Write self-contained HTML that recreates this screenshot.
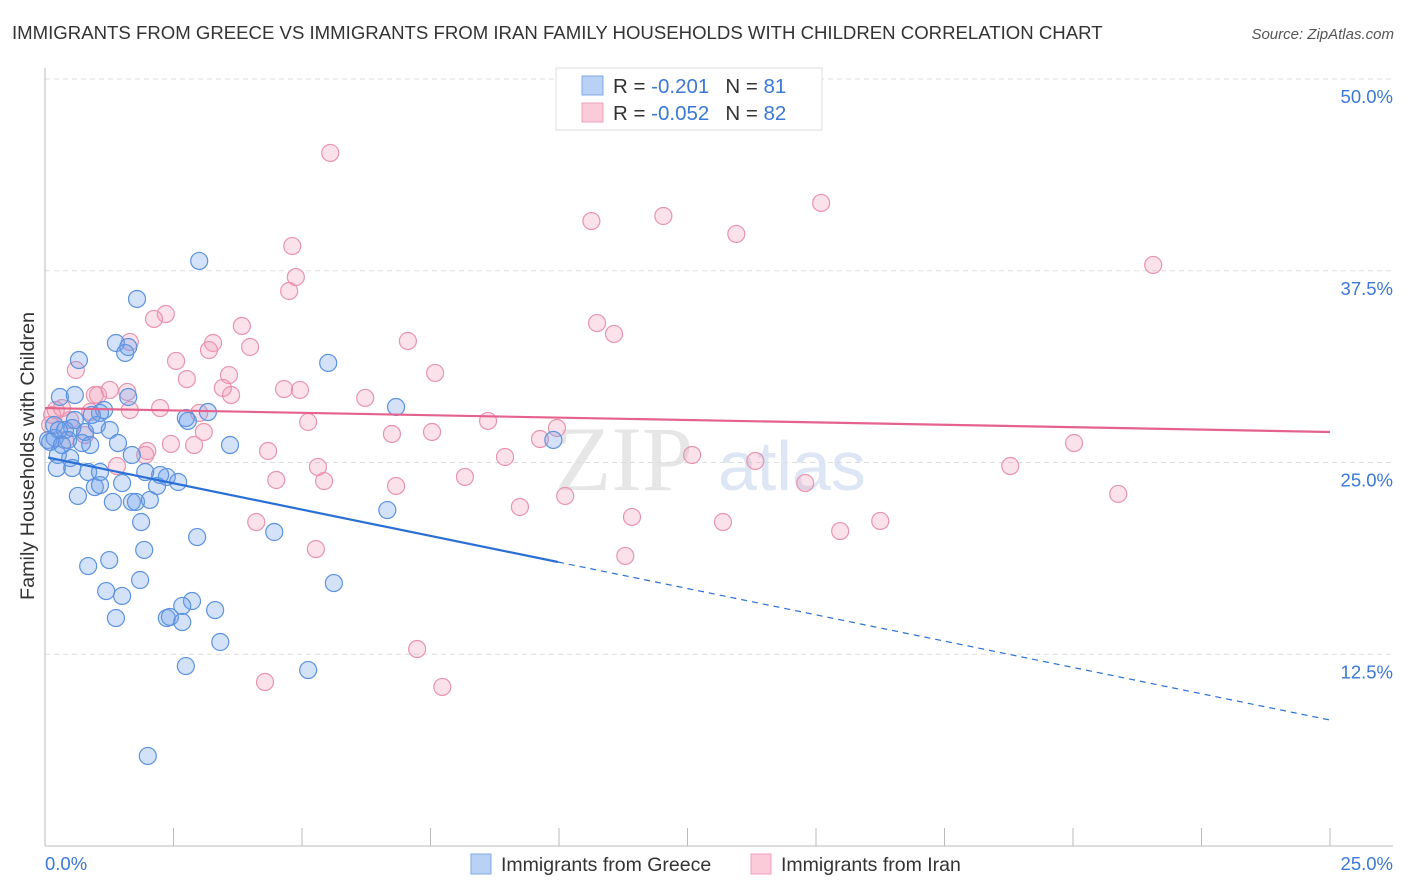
<!DOCTYPE html>
<html><head><meta charset="utf-8"><style>
body{margin:0;background:#fff;font-family:"Liberation Sans",sans-serif;}
#wrap{position:relative;width:1406px;height:892px;overflow:hidden;}
</style></head><body>
<div id="wrap">
<svg id="svg" width="1406" height="892" xmlns="http://www.w3.org/2000/svg">
<text x="12" y="39" font-size="18.6" fill="#333">IMMIGRANTS FROM GREECE VS IMMIGRANTS FROM IRAN FAMILY HOUSEHOLDS WITH CHILDREN CORRELATION CHART</text>
<text x="1394" y="39" font-size="15" fill="#555" font-style="italic" text-anchor="end">Source: ZipAtlas.com</text>
<text x="34" y="456" font-size="19.8" fill="#333" text-anchor="middle" transform="rotate(-90 34 456)">Family Households with Children</text>
<g>
<text x="555" y="490" font-size="92" fill="#e6e6e6" font-family="Liberation Serif,serif">ZIP</text>
<text x="718" y="490" font-size="70" fill="#dce6f4">atlas</text>
</g>
<g id="grid"></g>
<g id="axes"></g>
<g id="pts"></g>
<g id="trends"></g>
<g>
<rect x="556" y="68" width="266" height="62" fill="#fff" stroke="#ddd"/>
<rect x="582" y="76" width="21" height="19" fill="#b9d1f4" stroke="#7fa8e6"/>
<rect x="582" y="103" width="21" height="19" fill="#fbcbd9" stroke="#eea0b8"/>
<text x="613" y="93" font-size="20.5" fill="#333">R = <tspan fill="#3b78d8"> -0.201</tspan><tspan dx="16">N = </tspan><tspan fill="#3b78d8"> 81</tspan></text>
<text x="613" y="120" font-size="20.5" fill="#333">R = <tspan fill="#3b78d8">-0.052</tspan><tspan dx="16">N = </tspan><tspan fill="#3b78d8">82</tspan></text>
</g>
<g>
<rect x="471" y="854" width="20" height="20" fill="#b9d1f4" stroke="#7fa8e6"/>
<text x="501" y="871" font-size="19.5" fill="#333">Immigrants from Greece</text>
<rect x="751" y="854" width="20" height="20" fill="#fbcbd9" stroke="#eea0b8"/>
<text x="781" y="871" font-size="19.5" fill="#333">Immigrants from Iran</text>
</g>
</svg>
</div>
<script>
const greeceX=[3.00,1.79,0.66,1.38,1.56,1.62,5.51,0.29,0.58,1.62,6.83,3.17,2.74,2.78,1.15,1.07,0.18,0.39,0.53,0.78,1.01,1.26,0.06,0.19,0.45,0.72,0.88,1.42,3.60,9.89,1.69,0.25,0.49,0.23,0.53,0.84,1.07,1.50,0.97,1.07,1.95,2.37,2.59,2.18,1.32,1.69,1.77,0.64,6.66,1.87,4.46,2.96,1.93,1.25,0.84,1.85,5.62,1.19,1.50,2.86,2.67,3.31,1.38,2.37,2.43,2.67,3.41,2.74,5.12,2.00,0.27,0.10,0.33,0.58,0.91,2.04,2.24];
const greeceY=[38.14,35.66,31.68,32.79,32.14,32.53,31.49,29.27,29.40,29.27,28.62,28.29,27.90,27.71,28.42,28.23,27.45,27.12,27.25,26.99,27.45,27.12,26.47,26.60,26.47,26.27,26.14,26.27,26.14,26.47,25.49,25.49,25.29,24.64,24.64,24.38,24.38,23.66,23.40,23.53,24.38,24.06,23.73,23.47,22.43,22.43,22.43,22.82,21.90,21.12,20.47,20.14,19.30,18.64,18.25,17.34,17.14,16.62,16.30,15.97,15.65,15.38,14.86,14.86,14.93,14.60,13.30,11.73,11.47,5.87,27.12,26.34,26.14,27.77,28.10,22.56,24.19];
const iranX=[5.55,10.63,12.03,15.10,13.45,4.81,21.56,4.88,4.75,2.35,2.12,10.74,11.07,3.83,7.06,1.65,3.99,3.27,3.19,2.55,7.59,2.76,3.58,0.60,4.65,4.96,3.46,6.23,1.60,1.26,1.03,3.62,2.24,1.65,0.21,0.88,0.33,3.00,5.12,8.62,9.96,20.02,6.75,7.53,3.09,0.78,0.10,0.49,9.63,2.45,2.90,4.34,1.99,8.95,12.59,13.82,5.31,18.78,8.17,4.50,5.43,6.83,14.79,10.12,20.88,9.24,11.42,16.25,13.19,15.47,4.11,5.27,11.29,7.24,4.28,7.73,1.40,1.95,0.97,0.39,0.14];
const iranY=[45.18,40.74,41.07,41.92,39.90,39.11,37.88,37.09,36.18,34.68,34.36,34.09,33.38,33.90,32.92,32.86,32.53,32.79,32.33,31.62,30.84,30.44,30.70,31.03,29.79,29.73,29.86,29.21,29.60,29.73,29.40,29.40,28.55,28.42,28.42,28.29,28.55,28.23,27.64,27.71,27.25,26.27,26.86,26.99,26.99,26.79,27.45,27.77,26.53,26.21,26.14,25.75,25.75,25.36,25.49,25.10,24.71,24.77,24.06,23.86,23.79,23.47,23.66,22.82,22.95,22.10,21.45,21.19,21.12,20.53,21.12,19.36,18.91,12.84,10.69,10.37,24.77,25.49,29.40,26.47,28.10];
const yTicks=[12.5,25.0,37.5,50.0];
const yTickLabels=["12.5%","25.0%","37.5%","50.0%"];
const greeceTrend=[25.36,8.21];
const greeceSolidEnd=9.98;
const iranTrend=[28.55,26.99];
const NS="http://www.w3.org/2000/svg";
const X0=45,X1=1330,Y0=846,Y50=79;
const sx=v=>X0+(v/25)*(X1-X0);
const sy=v=>Y0-(v/50)*(Y0-Y50);
function mk(tag,attrs,parent){const e=document.createElementNS(NS,tag);for(const k in attrs)e.setAttribute(k,attrs[k]);parent.appendChild(e);return e;}
const grid=document.getElementById('grid'),axes=document.getElementById('axes'),pts=document.getElementById('pts'),tr=document.getElementById('trends');
yTicks.forEach((t,i)=>{
 const l=mk('line',{x1:X0,x2:1393,y1:sy(t),y2:sy(t),stroke:'#ddd','stroke-dasharray':'5,4'},grid);
 
 
 const tx=mk('text',{x:1393,y:sy(t)+24,'font-size':18.5,fill:'#3b78d8','text-anchor':'end'},grid);
 tx.textContent=yTickLabels[i];
 
 
});
const ya=mk('line',{x1:X0,x2:X0,y1:68,y2:Y0,stroke:'#bbb'},axes);


const xa=mk('line',{x1:X0,x2:1393,y1:Y0,y2:Y0,stroke:'#bbb'},axes);


for(let i=1;i<=10;i++){
 const t=mk('line',{x1:sx(i*2.5),x2:sx(i*2.5),y1:828,y2:Y0,stroke:'#bbb'},axes);
 
 
}
const xl0=mk('text',{x:45,y:870,'font-size':18.5,fill:'#3b78d8'},axes);xl0.textContent='0.0%';


const xl1=mk('text',{x:1393,y:870,'font-size':18.5,fill:'#3b78d8','text-anchor':'end'},axes);xl1.textContent='25.0%';


iranX.forEach((x,i)=>{
 const c=mk('circle',{cx:sx(x),cy:sy(iranY[i]),r:8.5,fill:'rgba(242,150,180,0.28)',stroke:'#e994ae','stroke-width':1.2},pts);
 
 
});
greeceX.forEach((x,i)=>{
 const c=mk('circle',{cx:sx(x),cy:sy(greeceY[i]),r:8.5,fill:'rgba(110,160,235,0.3)',stroke:'#5c92de','stroke-width':1.2},pts);
 
 
});
const gy=x=>greeceTrend[0]+(greeceTrend[1]-greeceTrend[0])*x/25;
const g1=mk('line',{x1:sx(0.06),y1:sy(gy(0.06)),x2:sx(greeceSolidEnd),y2:sy(gy(greeceSolidEnd)),stroke:'#2a6fd6','stroke-width':2.2},tr);


const g2=mk('line',{x1:sx(greeceSolidEnd),y1:sy(gy(greeceSolidEnd)),x2:sx(25),y2:sy(greeceTrend[1]),stroke:'#2a6fd6','stroke-width':1.2,'stroke-dasharray':'6,5'},tr);


const p1=mk('line',{x1:sx(0),y1:sy(iranTrend[0]),x2:sx(25),y2:sy(iranTrend[1]),stroke:'#e5628c','stroke-width':2.2},tr);


</script>
</body></html>
